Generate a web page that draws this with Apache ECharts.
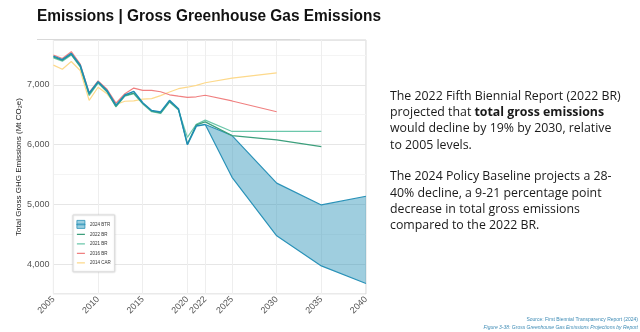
<!DOCTYPE html>
<html><head><meta charset="utf-8">
<script src="https://cdn.jsdelivr.net/npm/echarts@6/dist/echarts.min.js"></script>
<style>html,body{margin:0;padding:0;background:#fff}#c{width:640px;height:332px}</style>
</head><body><div id="c"></div>
<script>
// ---------- data ----------
const histYears = [2005,2006,2007,2008,2009,2010,2011,2012,2013,2014,2015,2016,2017,2018,2019,2020,2021,2022];
const btrHist   = [7480,7420,7525,7330,6860,7050,6905,6660,6830,6890,6700,6570,6545,6740,6600,6000,6310,6336];
const projYears = [2022,2025,2030,2035,2040];
const btrHigh   = [6336,6151,5355,4990,5135];
const btrLow    = [6336,5452,4473,3970,3676];
const br2022Years = [2005,2006,2007,2008,2009,2010,2011,2012,2013,2014,2015,2016,2017,2018,2019,2020,2021,2022,2025,2030,2035];
const br2022      = [7465,7410,7510,7310,6840,7040,6890,6640,6820,6860,6690,6560,6530,6720,6590,6010,6330,6380,6150,6080,5966];
const br2021Years = [2005,2006,2007,2008,2009,2010,2011,2012,2013,2014,2015,2016,2017,2018,2019,2020,2021,2022,2025,2030,2035];
const br2021      = [7450,7395,7500,7300,6820,7030,6880,6630,6810,6850,6680,6550,6520,6710,6580,6120,6340,6410,6220,6220,6220];
const br2016Years = [2005,2006,2007,2008,2009,2010,2011,2012,2013,2014,2015,2016,2017,2018,2019,2020,2021,2022,2025,2030];
const br2016      = [7500,7440,7555,7345,6870,7065,6925,6695,6850,6945,6906,6906,6884,6833,6810,6790,6800,6825,6730,6550];
const car2014Years = [2005,2006,2007,2008,2009,2010,2011,2012,2013,2014,2015,2016,2017,2018,2019,2020,2021,2022,2025,2030];
const car2014      = [7330,7260,7390,7240,6740,6960,6850,6670,6725,6730,6760,6770,6820,6880,6935,6960,6990,7035,7112,7200];
const xTickYears = [2005,2010,2015,2020,2022,2025,2030,2035,2040];
const yTickValues = [4000,5000,6000,7000];
const legendNames = ['2024 BTR','2022 BR','2021 BR','2016 BR','2014 CAR'];

// ---------- helpers ----------
function pairs(xs, ys){ return xs.map((x,i)=>[x, ys[i]]); }
const mc = document.createElement('canvas').getContext('2d');
function tw(font, s){ mc.font = font; return mc.measureText(s).width; }

const C_BTR = '#2a92b8', C_22 = '#3c9f7c', C_21 = '#6cc7ab', C_16 = '#f08080', C_14 = '#fdd98b';

const titleText = 'Emissions | Gross Greenhouse Gas Emissions';
const titleFamily = '"Liberation Sans Narrow", "Liberation Sans", Arial, sans-serif';
const titleScale = 344 / tw('bold 17px ' + titleFamily, titleText);

const pFamily = '"Open Sans", sans-serif';
const pSize = 13 * 231 / tw('13px ' + pFamily, 'The 2022 Fifth Biennial Report (2022 BR)');
const para1 = 'The 2022 Fifth Biennial Report (2022 BR)\nprojected that {b|total gross emissions}\nwould decline by 19% by 2030, relative\nto 2005 levels.';
const para2 = 'The 2024 Policy Baseline projects a 28-\n40% decline, a 9-21 percentage point\ndecrease in total gross emissions\ncompared to the 2022 BR.';

const lineIcon = 'path://M0,3.4h8v1.2h-8z M0,0h0.01v0.01h-0.01z M7.99,7.99h0.01v0.01h-0.01z';

function lineSeries(name, xs, ys, color, w){
  return {name, type:'line', data: pairs(xs, ys), symbol:'none', showSymbol:false,
    lineStyle:{color, width:w}, itemStyle:{color}, emphasis:{disabled:true}, animation:false};
}

const bandData = projYears.map((y,i)=>[y, btrLow[i], btrHigh[i]]);

const chart = echarts.init(document.getElementById('c'), null, {renderer:'canvas'});
chart.setOption({
  animation:false,
  backgroundColor:'#fff',
  grid:{left:45, right:274, top:40, bottom:38, show:true, borderColor:'#d4d4d4', borderWidth:1, backgroundColor:'transparent'},
  xAxis:{type:'value', min:2005, max:2040,
    axisLine:{show:false}, axisTick:{show:false, customValues:xTickYears},
    axisLabel:{customValues:xTickYears, rotate:45, color:'#555', fontSize:9, margin:4, fontFamily:'"Liberation Sans", Arial, sans-serif', formatter:v=>String(v)},
    splitLine:{show:true, lineStyle:{color:'#eeeeee', width:1}}},
  yAxis:{type:'value', min:3500, max:7750, interval:500,
    axisLine:{show:false}, axisTick:{show:false},
    axisLabel:{customValues:yTickValues, color:'#555', fontSize:9, margin:4, fontFamily:'"Liberation Sans", Arial, sans-serif', formatter:v=>v.toLocaleString('en-US')},
    splitLine:{lineStyle:{color:['#f4f4f4','#e6e6e6'], width:1}},
    name:'Total Gross GHG Emissions (Mt CO\u2082e)', nameLocation:'middle', nameGap:28,
    nameTextStyle:{fontSize:8, color:'#222', fontFamily:'"Liberation Sans", Arial, sans-serif'}},
  legend:{orient:'vertical', left:73, top:215, itemWidth:8, itemHeight:8, itemGap:1.5,
    padding:[5,4,5,3.5], backgroundColor:'#fff', borderColor:'#dcdcdc', borderWidth:1,
    shadowColor:'rgba(0,0,0,0.12)', shadowBlur:2,
    textStyle:{fontSize:4.5, color:'#333', fontFamily:'"Liberation Sans", Arial, sans-serif'},
    selectedMode:false,
    data:[
      {name:legendNames[0], icon:'path://M0,0h8v8h-8z M0,3.6h8v0.8h-8z', itemStyle:{color:'#9ccfe0', borderColor:C_BTR, borderWidth:0.8}},
      {name:legendNames[1], icon:lineIcon, itemStyle:{color:C_22, borderWidth:0}},
      {name:legendNames[2], icon:lineIcon, itemStyle:{color:C_21, borderWidth:0}},
      {name:legendNames[3], icon:lineIcon, itemStyle:{color:C_16, borderWidth:0}},
      {name:legendNames[4], icon:lineIcon, itemStyle:{color:C_14, borderWidth:0}}
    ]},
  series:[
    lineSeries('2014 CAR', car2014Years, car2014, C_14, 1.2),
    lineSeries('2016 BR', br2016Years, br2016, C_16, 1.2),
    {name:'2024 BTR', type:'custom', data:bandData, encode:{x:0, y:[1,2]}, silent:true, animation:false,
      renderItem:function(params, api){
        if (params.dataIndex !== 0) return null;
        const upper = bandData.map(d => api.coord([d[0], d[2]]));
        const lower = bandData.map(d => api.coord([d[0], d[1]])).reverse();
        return {type:'polygon', shape:{points: upper.concat(lower)},
          style:{fill:C_BTR, opacity:0.45, stroke:null}};
      }},
    lineSeries('2024 BTR', projYears, btrHigh, C_BTR, 1.2),
    lineSeries('2024 BTR', projYears, btrLow, C_BTR, 1.2),
    lineSeries('2021 BR', br2021Years, br2021, C_21, 1.2),
    lineSeries('2022 BR', br2022Years, br2022, C_22, 1.2),
    lineSeries('2024 BTR', histYears, btrHist, '#1e8db3', 1.5)
  ],
  graphic:[
    {type:'text', x:37, y:16, scaleX:titleScale, originX:0, originY:0,
      style:{text:titleText, fontFamily:titleFamily, fontWeight:'bold', fontSize:17, fill:'#111', verticalAlign:'middle', align:'left'}},
    {type:'line', shape:{x1:37, y1:39.5, x2:300, y2:39.5}, style:{stroke:'#d9d9d9', lineWidth:1}},
    {type:'text', x:390, y:87.8,
      style:{text:para1, fontFamily:pFamily, fontSize:pSize, lineHeight:16.4, fill:'#1a1a1a', verticalAlign:'top', align:'left',
        rich:{b:{fontFamily:pFamily, fontSize:pSize, fontWeight:'bold', lineHeight:16.4, fill:'#1a1a1a'}}}},
    {type:'text', x:390, y:168.5,
      style:{text:para2, fontFamily:pFamily, fontSize:pSize, lineHeight:16.4, fill:'#1a1a1a', verticalAlign:'top', align:'left'}},
    {type:'text', x:638, y:320,
      style:{text:'Source: First Biennial Transparency Report (2024)', fontFamily:'"Liberation Sans", Arial, sans-serif', fontSize:5, fill:'#3d8bb5', align:'right', verticalAlign:'middle'}},
    {type:'text', x:638, y:327.5,
      style:{text:'Figure 3-38: Gross Greenhouse Gas Emissions Projections by Report', fontFamily:'"Liberation Sans", Arial, sans-serif', fontSize:5, fontStyle:'italic', fill:'#3d8bb5', align:'right', verticalAlign:'middle'}}
  ]
});
</script>
</body></html>
